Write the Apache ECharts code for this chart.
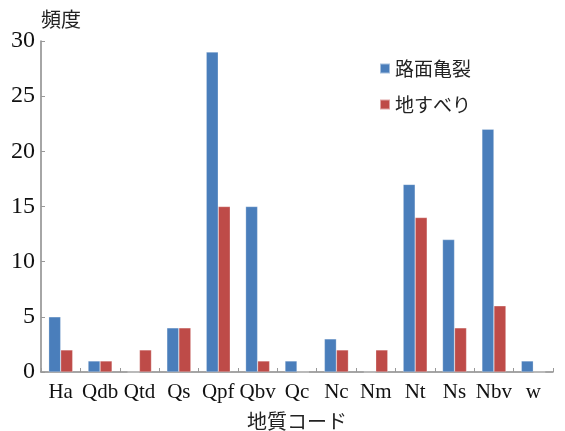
<!DOCTYPE html>
<html>
<head>
<meta charset="utf-8">
<script src="https://cdn.jsdelivr.net/npm/echarts@6/dist/echarts.min.js"></script>
<style>
html,body{margin:0;padding:0;background:#fff;}
#chart{width:565px;height:431px;}
</style>
</head>
<body>
<div id="chart"></div>
<script>
// Geology codes along the x axis
const categories = ['Ha','Qdb','Qtd','Qs','Qpf','Qbv','Qc','Nc','Nm','Nt','Ns','Nbv','w'];
// Frequency of road cracks per geology code
const roadCracks = [5,1,0,4,29,15,1,3,0,17,12,22,1];
// Frequency of landslides per geology code
const landslides = [2,1,2,4,15,1,0,2,2,14,4,6,0];
const yTicks = [0,5,10,15,20,25,30];

const serif = '"Liberation Serif","Times New Roman",serif';
const jp = '"Noto Sans CJK JP","Noto Sans CJK SC",sans-serif';

const chart = echarts.init(document.getElementById('chart'), null, {renderer:'canvas'});
chart.setOption({
  animation:false,
  backgroundColor:'#fff',
  grid:{left:41,top:41,right:12,bottom:59,containLabel:false,outerBoundsMode:'none'},
  legend:{
    orient:'vertical',
    left:374, top:54,
    itemWidth:10, itemHeight:10, itemGap:17,
    icon:'rect',
    textStyle:{fontFamily:jp, fontSize:19, color:'#222'},
    data:['路面亀裂','地すべり']
  },
  xAxis:{
    type:'category',
    data:categories,
    name:'地質コード',
    nameLocation:'middle',
    nameGap:39,
    nameTextStyle:{fontFamily:jp, fontSize:20, color:'#222'},
    axisLine:{lineStyle:{color:'#888', width:1.5}},
    axisTick:{show:true, inside:true, length:4, lineStyle:{color:'#999'}},
    axisLabel:{fontFamily:serif, fontSize:21, color:'#111', margin:10, interval:0}
  },
  yAxis:{
    type:'value',
    min:yTicks[0], max:yTicks[yTicks.length-1], interval:5,
    name:'頻度',
    nameLocation:'end',
    nameGap:12,
    nameTextStyle:{fontFamily:jp, fontSize:20, color:'#222', align:'left'},
    axisLine:{show:true, lineStyle:{color:'#888', width:1.5}},
    axisTick:{show:true, inside:true, length:4, lineStyle:{color:'#999'}},
    splitLine:{show:false},
    axisLabel:{fontFamily:serif, fontSize:24, color:'#111', margin:6}
  },
  series:[
    {name:'路面亀裂', type:'bar', data:roadCracks, barWidth:12, barGap:'0%',
     itemStyle:{color:'#4a7ebb', borderColor:'rgba(255,255,255,0.5)', borderWidth:0.5}},
    {name:'地すべり', type:'bar', data:landslides, barWidth:12, barGap:'0%',
     itemStyle:{color:'#be4b48', borderColor:'rgba(255,255,255,0.5)', borderWidth:0.5}}
  ]
});
</script>
</body>
</html>
